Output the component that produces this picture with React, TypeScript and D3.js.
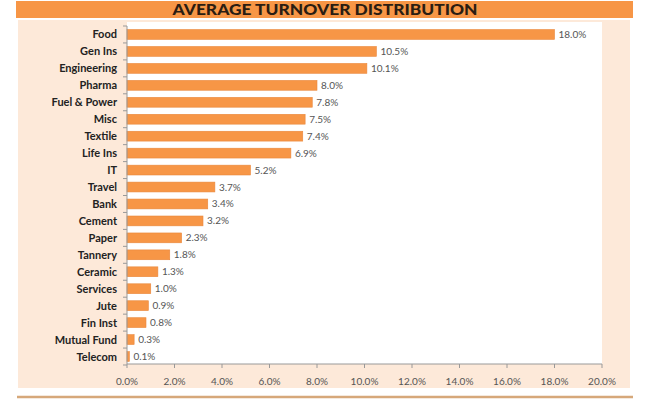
import * as d3 from 'd3'

const sectors = [
  'Food', 'Gen Ins', 'Engineering', 'Pharma', 'Fuel & Power', 'Misc', 'Textile',
  'Life Ins', 'IT', 'Travel', 'Bank', 'Cement', 'Paper', 'Tannery', 'Ceramic',
  'Services', 'Jute', 'Fin Inst', 'Mutual Fund', 'Telecom',
]
const shares = [
  18.0, 10.5, 10.1, 8.0, 7.8, 7.5, 7.4, 6.9, 5.2, 3.7, 3.4, 3.2, 2.3, 1.8, 1.3,
  1.0, 0.9, 0.8, 0.3, 0.1,
]
const xTicks = [0, 2, 4, 6, 8, 10, 12, 14, 16, 18, 20]

const W = 650
const H = 400
const FONT = 'Lato, "Open Sans", sans-serif'

export default function App() {
  const x = d3.scaleLinear().domain([0, 20]).range([127, 602])
  const y = d3.scaleBand<string>().domain(sectors).range([26, 365]).paddingInner(0.42).paddingOuter(0.21)
  const step = y.step()
  const axisY = 364

  return (
    <div style={{ position: 'absolute', left: 0, top: 0 }}>
      <svg width={W} height={H} style={{ display: 'block', background: '#fff' }}>
        {/* title band */}
        <rect x={16} y={1} width={617} height={17} fill="#f79646" />
        <text x={325} y={15} textAnchor="middle" fontFamily={FONT} fontWeight={900}
          fontSize={14.5} fill="#2b1d12" textLength={305} lengthAdjust="spacingAndGlyphs">
          AVERAGE TURNOVER DISTRIBUTION
        </text>

        {/* outer panel + plot area */}
        <rect x={18} y={20} width={612} height={368} fill="#fde9d9" />
        <rect x={127} y={22} width={475} height={axisY - 22} fill="#fff" />
        <line x1={17} x2={633} y1={397} y2={397} stroke="#d6a87a" strokeWidth={2.5} />

        {/* bars */}
        {sectors.map((s, i) => (
          <g key={s}>
            <rect x={x(0)} y={y(s)} width={x(shares[i]) - x(0)} height={y.bandwidth()}
              fill="#f79646" stroke="#e9883c" strokeWidth={0.6} />
            <text x={x(shares[i]) + 4} y={(y(s) as number) + y.bandwidth() / 2 + 3.5}
              fontFamily={FONT} fontSize={10} fill="#555">
              {shares[i].toFixed(1)}%
            </text>
            <text x={117} y={(y(s) as number) + y.bandwidth() / 2 + 4}
              textAnchor="end" fontFamily={FONT} fontWeight={700} fontSize={11} fill="#222">
              {s}
            </text>
          </g>
        ))}

        {/* y axis */}
        <line x1={x(0)} x2={x(0)} y1={26} y2={axisY} stroke="#999" />
        {d3.range(sectors.length + 1).map(k => (
          <line key={k} x1={x(0) - 4} x2={x(0)} y1={26 + k * step} y2={26 + k * step} stroke="#999" />
        ))}

        {/* x axis */}
        <line x1={x(0)} x2={x(20)} y1={axisY} y2={axisY} stroke="#999" />
        {xTicks.map(t => (
          <g key={t}>
            <line x1={x(t)} x2={x(t)} y1={axisY} y2={axisY + 4} stroke="#999" />
            <text x={x(t)} y={385} textAnchor="middle" fontFamily={FONT} fontSize={10} fill="#555">
              {t.toFixed(1)}%
            </text>
          </g>
        ))}
      </svg>
    </div>
  )
}
